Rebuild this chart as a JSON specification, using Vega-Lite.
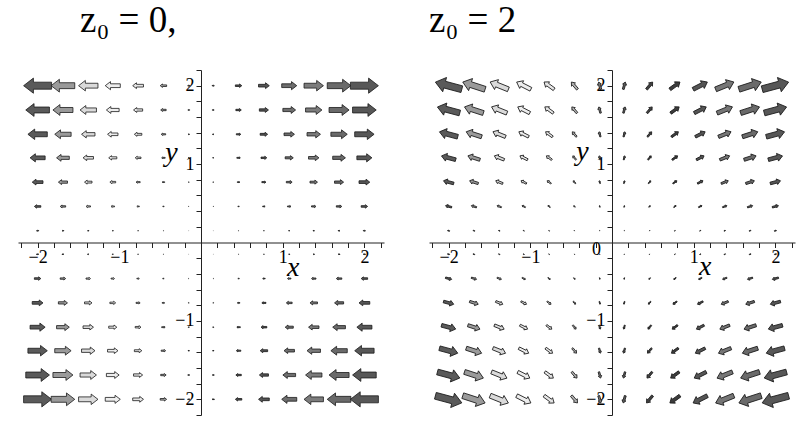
{
"$schema":"https://vega.github.io/schema/vega-lite/v6.json",
"background":"white",
"padding":{"left":18,"top":2,"right":5,"bottom":5},
"spacing":45,
"config":{"view":{"stroke":null},"axis":{"grid":false}},
"resolve":{"scale":{"x":"independent","y":"independent","size":"independent","color":"independent"}},
"datasets":{
"z0":[
{"x":-2,"y":2,"m":4,"a":180},{"x":-1.69,"y":2,"m":3.38,"a":180},{"x":-1.38,"y":2,"m":2.77,"a":180},{"x":-1.08,"y":2,"m":2.15,"a":180},{"x":-0.77,"y":2,"m":1.54,"a":180},{"x":-0.46,"y":2,"m":0.92,"a":180},{"x":-0.15,"y":2,"m":0.31,"a":180},{"x":0.15,"y":2,"m":0.31,"a":0},{"x":0.46,"y":2,"m":0.92,"a":0},{"x":0.77,"y":2,"m":1.54,"a":0},{"x":1.08,"y":2,"m":2.15,"a":0},{"x":1.38,"y":2,"m":2.77,"a":0},{"x":1.69,"y":2,"m":3.38,"a":0},{"x":2,"y":2,"m":4,"a":0},
{"x":-2,"y":1.69,"m":3.38,"a":180},{"x":-1.69,"y":1.69,"m":2.86,"a":180},{"x":-1.38,"y":1.69,"m":2.34,"a":180},{"x":-1.08,"y":1.69,"m":1.82,"a":180},{"x":-0.77,"y":1.69,"m":1.3,"a":180},{"x":-0.46,"y":1.69,"m":0.78,"a":180},{"x":-0.15,"y":1.69,"m":0.26,"a":180},{"x":0.15,"y":1.69,"m":0.26,"a":0},{"x":0.46,"y":1.69,"m":0.78,"a":0},{"x":0.77,"y":1.69,"m":1.3,"a":0},{"x":1.08,"y":1.69,"m":1.82,"a":0},{"x":1.38,"y":1.69,"m":2.34,"a":0},{"x":1.69,"y":1.69,"m":2.86,"a":0},{"x":2,"y":1.69,"m":3.38,"a":0},
{"x":-2,"y":1.38,"m":2.77,"a":180},{"x":-1.69,"y":1.38,"m":2.34,"a":180},{"x":-1.38,"y":1.38,"m":1.92,"a":180},{"x":-1.08,"y":1.38,"m":1.49,"a":180},{"x":-0.77,"y":1.38,"m":1.07,"a":180},{"x":-0.46,"y":1.38,"m":0.64,"a":180},{"x":-0.15,"y":1.38,"m":0.21,"a":180},{"x":0.15,"y":1.38,"m":0.21,"a":0},{"x":0.46,"y":1.38,"m":0.64,"a":0},{"x":0.77,"y":1.38,"m":1.07,"a":0},{"x":1.08,"y":1.38,"m":1.49,"a":0},{"x":1.38,"y":1.38,"m":1.92,"a":0},{"x":1.69,"y":1.38,"m":2.34,"a":0},{"x":2,"y":1.38,"m":2.77,"a":0},
{"x":-2,"y":1.08,"m":2.15,"a":180},{"x":-1.69,"y":1.08,"m":1.82,"a":180},{"x":-1.38,"y":1.08,"m":1.49,"a":180},{"x":-1.08,"y":1.08,"m":1.16,"a":180},{"x":-0.77,"y":1.08,"m":0.83,"a":180},{"x":-0.46,"y":1.08,"m":0.5,"a":180},{"x":-0.15,"y":1.08,"m":0.17,"a":180},{"x":0.15,"y":1.08,"m":0.17,"a":0},{"x":0.46,"y":1.08,"m":0.5,"a":0},{"x":0.77,"y":1.08,"m":0.83,"a":0},{"x":1.08,"y":1.08,"m":1.16,"a":0},{"x":1.38,"y":1.08,"m":1.49,"a":0},{"x":1.69,"y":1.08,"m":1.82,"a":0},{"x":2,"y":1.08,"m":2.15,"a":0},
{"x":-2,"y":0.77,"m":1.54,"a":180},{"x":-1.69,"y":0.77,"m":1.3,"a":180},{"x":-1.38,"y":0.77,"m":1.07,"a":180},{"x":-1.08,"y":0.77,"m":0.83,"a":180},{"x":-0.77,"y":0.77,"m":0.59,"a":180},{"x":-0.46,"y":0.77,"m":0.36,"a":180},{"x":-0.15,"y":0.77,"m":0.12,"a":180},{"x":0.15,"y":0.77,"m":0.12,"a":0},{"x":0.46,"y":0.77,"m":0.36,"a":0},{"x":0.77,"y":0.77,"m":0.59,"a":0},{"x":1.08,"y":0.77,"m":0.83,"a":0},{"x":1.38,"y":0.77,"m":1.07,"a":0},{"x":1.69,"y":0.77,"m":1.3,"a":0},{"x":2,"y":0.77,"m":1.54,"a":0},
{"x":-2,"y":0.46,"m":0.92,"a":180},{"x":-1.69,"y":0.46,"m":0.78,"a":180},{"x":-1.38,"y":0.46,"m":0.64,"a":180},{"x":-1.08,"y":0.46,"m":0.5,"a":180},{"x":-0.77,"y":0.46,"m":0.36,"a":180},{"x":-0.46,"y":0.46,"m":0.21,"a":180},{"x":-0.15,"y":0.46,"m":0.07,"a":180},{"x":0.15,"y":0.46,"m":0.07,"a":0},{"x":0.46,"y":0.46,"m":0.21,"a":0},{"x":0.77,"y":0.46,"m":0.36,"a":0},{"x":1.08,"y":0.46,"m":0.5,"a":0},{"x":1.38,"y":0.46,"m":0.64,"a":0},{"x":1.69,"y":0.46,"m":0.78,"a":0},{"x":2,"y":0.46,"m":0.92,"a":0},
{"x":-2,"y":0.15,"m":0.31,"a":180},{"x":-1.69,"y":0.15,"m":0.26,"a":180},{"x":-1.38,"y":0.15,"m":0.21,"a":180},{"x":-1.08,"y":0.15,"m":0.17,"a":180},{"x":-0.77,"y":0.15,"m":0.12,"a":180},{"x":-0.46,"y":0.15,"m":0.07,"a":180},{"x":-0.15,"y":0.15,"m":0.02,"a":180},{"x":0.15,"y":0.15,"m":0.02,"a":0},{"x":0.46,"y":0.15,"m":0.07,"a":0},{"x":0.77,"y":0.15,"m":0.12,"a":0},{"x":1.08,"y":0.15,"m":0.17,"a":0},{"x":1.38,"y":0.15,"m":0.21,"a":0},{"x":1.69,"y":0.15,"m":0.26,"a":0},{"x":2,"y":0.15,"m":0.31,"a":0},
{"x":-2,"y":-0.15,"m":0.31,"a":0},{"x":-1.69,"y":-0.15,"m":0.26,"a":0},{"x":-1.38,"y":-0.15,"m":0.21,"a":0},{"x":-1.08,"y":-0.15,"m":0.17,"a":0},{"x":-0.77,"y":-0.15,"m":0.12,"a":0},{"x":-0.46,"y":-0.15,"m":0.07,"a":0},{"x":-0.15,"y":-0.15,"m":0.02,"a":0},{"x":0.15,"y":-0.15,"m":0.02,"a":180},{"x":0.46,"y":-0.15,"m":0.07,"a":180},{"x":0.77,"y":-0.15,"m":0.12,"a":180},{"x":1.08,"y":-0.15,"m":0.17,"a":180},{"x":1.38,"y":-0.15,"m":0.21,"a":180},{"x":1.69,"y":-0.15,"m":0.26,"a":180},{"x":2,"y":-0.15,"m":0.31,"a":180},
{"x":-2,"y":-0.46,"m":0.92,"a":0},{"x":-1.69,"y":-0.46,"m":0.78,"a":0},{"x":-1.38,"y":-0.46,"m":0.64,"a":0},{"x":-1.08,"y":-0.46,"m":0.5,"a":0},{"x":-0.77,"y":-0.46,"m":0.36,"a":0},{"x":-0.46,"y":-0.46,"m":0.21,"a":0},{"x":-0.15,"y":-0.46,"m":0.07,"a":0},{"x":0.15,"y":-0.46,"m":0.07,"a":180},{"x":0.46,"y":-0.46,"m":0.21,"a":180},{"x":0.77,"y":-0.46,"m":0.36,"a":180},{"x":1.08,"y":-0.46,"m":0.5,"a":180},{"x":1.38,"y":-0.46,"m":0.64,"a":180},{"x":1.69,"y":-0.46,"m":0.78,"a":180},{"x":2,"y":-0.46,"m":0.92,"a":180},
{"x":-2,"y":-0.77,"m":1.54,"a":0},{"x":-1.69,"y":-0.77,"m":1.3,"a":0},{"x":-1.38,"y":-0.77,"m":1.07,"a":0},{"x":-1.08,"y":-0.77,"m":0.83,"a":0},{"x":-0.77,"y":-0.77,"m":0.59,"a":0},{"x":-0.46,"y":-0.77,"m":0.36,"a":0},{"x":-0.15,"y":-0.77,"m":0.12,"a":0},{"x":0.15,"y":-0.77,"m":0.12,"a":180},{"x":0.46,"y":-0.77,"m":0.36,"a":180},{"x":0.77,"y":-0.77,"m":0.59,"a":180},{"x":1.08,"y":-0.77,"m":0.83,"a":180},{"x":1.38,"y":-0.77,"m":1.07,"a":180},{"x":1.69,"y":-0.77,"m":1.3,"a":180},{"x":2,"y":-0.77,"m":1.54,"a":180},
{"x":-2,"y":-1.08,"m":2.15,"a":0},{"x":-1.69,"y":-1.08,"m":1.82,"a":0},{"x":-1.38,"y":-1.08,"m":1.49,"a":0},{"x":-1.08,"y":-1.08,"m":1.16,"a":0},{"x":-0.77,"y":-1.08,"m":0.83,"a":0},{"x":-0.46,"y":-1.08,"m":0.5,"a":0},{"x":-0.15,"y":-1.08,"m":0.17,"a":0},{"x":0.15,"y":-1.08,"m":0.17,"a":180},{"x":0.46,"y":-1.08,"m":0.5,"a":180},{"x":0.77,"y":-1.08,"m":0.83,"a":180},{"x":1.08,"y":-1.08,"m":1.16,"a":180},{"x":1.38,"y":-1.08,"m":1.49,"a":180},{"x":1.69,"y":-1.08,"m":1.82,"a":180},{"x":2,"y":-1.08,"m":2.15,"a":180},
{"x":-2,"y":-1.38,"m":2.77,"a":0},{"x":-1.69,"y":-1.38,"m":2.34,"a":0},{"x":-1.38,"y":-1.38,"m":1.92,"a":0},{"x":-1.08,"y":-1.38,"m":1.49,"a":0},{"x":-0.77,"y":-1.38,"m":1.07,"a":0},{"x":-0.46,"y":-1.38,"m":0.64,"a":0},{"x":-0.15,"y":-1.38,"m":0.21,"a":0},{"x":0.15,"y":-1.38,"m":0.21,"a":180},{"x":0.46,"y":-1.38,"m":0.64,"a":180},{"x":0.77,"y":-1.38,"m":1.07,"a":180},{"x":1.08,"y":-1.38,"m":1.49,"a":180},{"x":1.38,"y":-1.38,"m":1.92,"a":180},{"x":1.69,"y":-1.38,"m":2.34,"a":180},{"x":2,"y":-1.38,"m":2.77,"a":180},
{"x":-2,"y":-1.69,"m":3.38,"a":0},{"x":-1.69,"y":-1.69,"m":2.86,"a":0},{"x":-1.38,"y":-1.69,"m":2.34,"a":0},{"x":-1.08,"y":-1.69,"m":1.82,"a":0},{"x":-0.77,"y":-1.69,"m":1.3,"a":0},{"x":-0.46,"y":-1.69,"m":0.78,"a":0},{"x":-0.15,"y":-1.69,"m":0.26,"a":0},{"x":0.15,"y":-1.69,"m":0.26,"a":180},{"x":0.46,"y":-1.69,"m":0.78,"a":180},{"x":0.77,"y":-1.69,"m":1.3,"a":180},{"x":1.08,"y":-1.69,"m":1.82,"a":180},{"x":1.38,"y":-1.69,"m":2.34,"a":180},{"x":1.69,"y":-1.69,"m":2.86,"a":180},{"x":2,"y":-1.69,"m":3.38,"a":180},
{"x":-2,"y":-2,"m":4,"a":0},{"x":-1.69,"y":-2,"m":3.38,"a":0},{"x":-1.38,"y":-2,"m":2.77,"a":0},{"x":-1.08,"y":-2,"m":2.15,"a":0},{"x":-0.77,"y":-2,"m":1.54,"a":0},{"x":-0.46,"y":-2,"m":0.92,"a":0},{"x":-0.15,"y":-2,"m":0.31,"a":0},{"x":0.15,"y":-2,"m":0.31,"a":180},{"x":0.46,"y":-2,"m":0.92,"a":180},{"x":0.77,"y":-2,"m":1.54,"a":180},{"x":1.08,"y":-2,"m":2.15,"a":180},{"x":1.38,"y":-2,"m":2.77,"a":180},{"x":1.69,"y":-2,"m":3.38,"a":180},{"x":2,"y":-2,"m":4,"a":180}
],
"z2":[
{"x":-2,"y":2,"m":4.15,"a":195},{"x":-1.69,"y":2,"m":3.56,"a":198},{"x":-1.38,"y":2,"m":2.98,"a":202},{"x":-1.08,"y":2,"m":2.42,"a":207},{"x":-0.77,"y":2,"m":1.89,"a":216},{"x":-0.46,"y":2,"m":1.44,"a":230},{"x":-0.15,"y":2,"m":1.14,"a":254},{"x":0.15,"y":2,"m":1.14,"a":286},{"x":0.46,"y":2,"m":1.44,"a":310},{"x":0.77,"y":2,"m":1.89,"a":324},{"x":1.08,"y":2,"m":2.42,"a":333},{"x":1.38,"y":2,"m":2.98,"a":338},{"x":1.69,"y":2,"m":3.56,"a":342},{"x":2,"y":2,"m":4.15,"a":345},
{"x":-2,"y":1.69,"m":3.51,"a":195},{"x":-1.69,"y":1.69,"m":3.01,"a":198},{"x":-1.38,"y":1.69,"m":2.52,"a":202},{"x":-1.08,"y":1.69,"m":2.05,"a":207},{"x":-0.77,"y":1.69,"m":1.6,"a":216},{"x":-0.46,"y":1.69,"m":1.22,"a":230},{"x":-0.15,"y":1.69,"m":0.97,"a":254},{"x":0.15,"y":1.69,"m":0.97,"a":286},{"x":0.46,"y":1.69,"m":1.22,"a":310},{"x":0.77,"y":1.69,"m":1.6,"a":324},{"x":1.08,"y":1.69,"m":2.05,"a":333},{"x":1.38,"y":1.69,"m":2.52,"a":338},{"x":1.69,"y":1.69,"m":3.01,"a":342},{"x":2,"y":1.69,"m":3.51,"a":345},
{"x":-2,"y":1.38,"m":2.87,"a":195},{"x":-1.69,"y":1.38,"m":2.46,"a":198},{"x":-1.38,"y":1.38,"m":2.06,"a":202},{"x":-1.08,"y":1.38,"m":1.67,"a":207},{"x":-0.77,"y":1.38,"m":1.31,"a":216},{"x":-0.46,"y":1.38,"m":0.99,"a":230},{"x":-0.15,"y":1.38,"m":0.79,"a":254},{"x":0.15,"y":1.38,"m":0.79,"a":286},{"x":0.46,"y":1.38,"m":0.99,"a":310},{"x":0.77,"y":1.38,"m":1.31,"a":324},{"x":1.08,"y":1.38,"m":1.67,"a":333},{"x":1.38,"y":1.38,"m":2.06,"a":338},{"x":1.69,"y":1.38,"m":2.46,"a":342},{"x":2,"y":1.38,"m":2.87,"a":345},
{"x":-2,"y":1.08,"m":2.23,"a":195},{"x":-1.69,"y":1.08,"m":1.92,"a":198},{"x":-1.38,"y":1.08,"m":1.6,"a":202},{"x":-1.08,"y":1.08,"m":1.3,"a":207},{"x":-0.77,"y":1.08,"m":1.02,"a":216},{"x":-0.46,"y":1.08,"m":0.77,"a":230},{"x":-0.15,"y":1.08,"m":0.62,"a":254},{"x":0.15,"y":1.08,"m":0.62,"a":286},{"x":0.46,"y":1.08,"m":0.77,"a":310},{"x":0.77,"y":1.08,"m":1.02,"a":324},{"x":1.08,"y":1.08,"m":1.3,"a":333},{"x":1.38,"y":1.08,"m":1.6,"a":338},{"x":1.69,"y":1.08,"m":1.92,"a":342},{"x":2,"y":1.08,"m":2.23,"a":345},
{"x":-2,"y":0.77,"m":1.6,"a":195},{"x":-1.69,"y":0.77,"m":1.37,"a":198},{"x":-1.38,"y":0.77,"m":1.15,"a":202},{"x":-1.08,"y":0.77,"m":0.93,"a":207},{"x":-0.77,"y":0.77,"m":0.73,"a":216},{"x":-0.46,"y":0.77,"m":0.55,"a":230},{"x":-0.15,"y":0.77,"m":0.44,"a":254},{"x":0.15,"y":0.77,"m":0.44,"a":286},{"x":0.46,"y":0.77,"m":0.55,"a":310},{"x":0.77,"y":0.77,"m":0.73,"a":324},{"x":1.08,"y":0.77,"m":0.93,"a":333},{"x":1.38,"y":0.77,"m":1.15,"a":338},{"x":1.69,"y":0.77,"m":1.37,"a":342},{"x":2,"y":0.77,"m":1.6,"a":345},
{"x":-2,"y":0.46,"m":0.96,"a":195},{"x":-1.69,"y":0.46,"m":0.82,"a":198},{"x":-1.38,"y":0.46,"m":0.69,"a":202},{"x":-1.08,"y":0.46,"m":0.56,"a":207},{"x":-0.77,"y":0.46,"m":0.44,"a":216},{"x":-0.46,"y":0.46,"m":0.33,"a":230},{"x":-0.15,"y":0.46,"m":0.26,"a":254},{"x":0.15,"y":0.46,"m":0.26,"a":286},{"x":0.46,"y":0.46,"m":0.33,"a":310},{"x":0.77,"y":0.46,"m":0.44,"a":324},{"x":1.08,"y":0.46,"m":0.56,"a":333},{"x":1.38,"y":0.46,"m":0.69,"a":338},{"x":1.69,"y":0.46,"m":0.82,"a":342},{"x":2,"y":0.46,"m":0.96,"a":345},
{"x":-2,"y":0.15,"m":0.32,"a":195},{"x":-1.69,"y":0.15,"m":0.27,"a":198},{"x":-1.38,"y":0.15,"m":0.23,"a":202},{"x":-1.08,"y":0.15,"m":0.19,"a":207},{"x":-0.77,"y":0.15,"m":0.15,"a":216},{"x":-0.46,"y":0.15,"m":0.11,"a":230},{"x":-0.15,"y":0.15,"m":0.09,"a":254},{"x":0.15,"y":0.15,"m":0.09,"a":286},{"x":0.46,"y":0.15,"m":0.11,"a":310},{"x":0.77,"y":0.15,"m":0.15,"a":324},{"x":1.08,"y":0.15,"m":0.19,"a":333},{"x":1.38,"y":0.15,"m":0.23,"a":338},{"x":1.69,"y":0.15,"m":0.27,"a":342},{"x":2,"y":0.15,"m":0.32,"a":345},
{"x":-2,"y":-0.15,"m":0.32,"a":15},{"x":-1.69,"y":-0.15,"m":0.27,"a":18},{"x":-1.38,"y":-0.15,"m":0.23,"a":22},{"x":-1.08,"y":-0.15,"m":0.19,"a":27},{"x":-0.77,"y":-0.15,"m":0.15,"a":36},{"x":-0.46,"y":-0.15,"m":0.11,"a":50},{"x":-0.15,"y":-0.15,"m":0.09,"a":74},{"x":0.15,"y":-0.15,"m":0.09,"a":106},{"x":0.46,"y":-0.15,"m":0.11,"a":130},{"x":0.77,"y":-0.15,"m":0.15,"a":144},{"x":1.08,"y":-0.15,"m":0.19,"a":153},{"x":1.38,"y":-0.15,"m":0.23,"a":158},{"x":1.69,"y":-0.15,"m":0.27,"a":162},{"x":2,"y":-0.15,"m":0.32,"a":165},
{"x":-2,"y":-0.46,"m":0.96,"a":15},{"x":-1.69,"y":-0.46,"m":0.82,"a":18},{"x":-1.38,"y":-0.46,"m":0.69,"a":22},{"x":-1.08,"y":-0.46,"m":0.56,"a":27},{"x":-0.77,"y":-0.46,"m":0.44,"a":36},{"x":-0.46,"y":-0.46,"m":0.33,"a":50},{"x":-0.15,"y":-0.46,"m":0.26,"a":74},{"x":0.15,"y":-0.46,"m":0.26,"a":106},{"x":0.46,"y":-0.46,"m":0.33,"a":130},{"x":0.77,"y":-0.46,"m":0.44,"a":144},{"x":1.08,"y":-0.46,"m":0.56,"a":153},{"x":1.38,"y":-0.46,"m":0.69,"a":158},{"x":1.69,"y":-0.46,"m":0.82,"a":162},{"x":2,"y":-0.46,"m":0.96,"a":165},
{"x":-2,"y":-0.77,"m":1.6,"a":15},{"x":-1.69,"y":-0.77,"m":1.37,"a":18},{"x":-1.38,"y":-0.77,"m":1.15,"a":22},{"x":-1.08,"y":-0.77,"m":0.93,"a":27},{"x":-0.77,"y":-0.77,"m":0.73,"a":36},{"x":-0.46,"y":-0.77,"m":0.55,"a":50},{"x":-0.15,"y":-0.77,"m":0.44,"a":74},{"x":0.15,"y":-0.77,"m":0.44,"a":106},{"x":0.46,"y":-0.77,"m":0.55,"a":130},{"x":0.77,"y":-0.77,"m":0.73,"a":144},{"x":1.08,"y":-0.77,"m":0.93,"a":153},{"x":1.38,"y":-0.77,"m":1.15,"a":158},{"x":1.69,"y":-0.77,"m":1.37,"a":162},{"x":2,"y":-0.77,"m":1.6,"a":165},
{"x":-2,"y":-1.08,"m":2.23,"a":15},{"x":-1.69,"y":-1.08,"m":1.92,"a":18},{"x":-1.38,"y":-1.08,"m":1.6,"a":22},{"x":-1.08,"y":-1.08,"m":1.3,"a":27},{"x":-0.77,"y":-1.08,"m":1.02,"a":36},{"x":-0.46,"y":-1.08,"m":0.77,"a":50},{"x":-0.15,"y":-1.08,"m":0.62,"a":74},{"x":0.15,"y":-1.08,"m":0.62,"a":106},{"x":0.46,"y":-1.08,"m":0.77,"a":130},{"x":0.77,"y":-1.08,"m":1.02,"a":144},{"x":1.08,"y":-1.08,"m":1.3,"a":153},{"x":1.38,"y":-1.08,"m":1.6,"a":158},{"x":1.69,"y":-1.08,"m":1.92,"a":162},{"x":2,"y":-1.08,"m":2.23,"a":165},
{"x":-2,"y":-1.38,"m":2.87,"a":15},{"x":-1.69,"y":-1.38,"m":2.46,"a":18},{"x":-1.38,"y":-1.38,"m":2.06,"a":22},{"x":-1.08,"y":-1.38,"m":1.67,"a":27},{"x":-0.77,"y":-1.38,"m":1.31,"a":36},{"x":-0.46,"y":-1.38,"m":0.99,"a":50},{"x":-0.15,"y":-1.38,"m":0.79,"a":74},{"x":0.15,"y":-1.38,"m":0.79,"a":106},{"x":0.46,"y":-1.38,"m":0.99,"a":130},{"x":0.77,"y":-1.38,"m":1.31,"a":144},{"x":1.08,"y":-1.38,"m":1.67,"a":153},{"x":1.38,"y":-1.38,"m":2.06,"a":158},{"x":1.69,"y":-1.38,"m":2.46,"a":162},{"x":2,"y":-1.38,"m":2.87,"a":165},
{"x":-2,"y":-1.69,"m":3.51,"a":15},{"x":-1.69,"y":-1.69,"m":3.01,"a":18},{"x":-1.38,"y":-1.69,"m":2.52,"a":22},{"x":-1.08,"y":-1.69,"m":2.05,"a":27},{"x":-0.77,"y":-1.69,"m":1.6,"a":36},{"x":-0.46,"y":-1.69,"m":1.22,"a":50},{"x":-0.15,"y":-1.69,"m":0.97,"a":74},{"x":0.15,"y":-1.69,"m":0.97,"a":106},{"x":0.46,"y":-1.69,"m":1.22,"a":130},{"x":0.77,"y":-1.69,"m":1.6,"a":144},{"x":1.08,"y":-1.69,"m":2.05,"a":153},{"x":1.38,"y":-1.69,"m":2.52,"a":158},{"x":1.69,"y":-1.69,"m":3.01,"a":162},{"x":2,"y":-1.69,"m":3.51,"a":165},
{"x":-2,"y":-2,"m":4.15,"a":15},{"x":-1.69,"y":-2,"m":3.56,"a":18},{"x":-1.38,"y":-2,"m":2.98,"a":22},{"x":-1.08,"y":-2,"m":2.42,"a":27},{"x":-0.77,"y":-2,"m":1.89,"a":36},{"x":-0.46,"y":-2,"m":1.44,"a":50},{"x":-0.15,"y":-2,"m":1.14,"a":74},{"x":0.15,"y":-2,"m":1.14,"a":106},{"x":0.46,"y":-2,"m":1.44,"a":130},{"x":0.77,"y":-2,"m":1.89,"a":144},{"x":1.08,"y":-2,"m":2.42,"a":153},{"x":1.38,"y":-2,"m":2.98,"a":158},{"x":1.69,"y":-2,"m":3.56,"a":162},{"x":2,"y":-2,"m":4.15,"a":165}
],
"lab0":[{"x":1.13,"y":-0.43,"t":"x"},{"x":-0.36,"y":1.04,"t":"y"}],
"lab2":[{"x":1.14,"y":-0.42,"t":"x"},{"x":-0.36,"y":1.05,"t":"y"}],
"zero2":[{"x":-0.19,"y":-0.165,"t":"0"}]
},
"hconcat":[
{
"width":366,"height":345,
"title":{"text":"z₀ = 0,","anchor":"start","dx":62,"font":"Liberation Serif","fontSize":37,"fontWeight":"normal","color":"black","baseline":"alphabetic","offset":-8},
"encoding":{
"x":{"field":"x","type":"quantitative","scale":{"domain":[-2.24,2.24],"nice":false,"zero":false},
"axis":{"orient":"bottom","offset":-172.5,"title":null,"values":[-2.2,-2,-1.8,-1.6,-1.4,-1.2,-1,-0.8,-0.6,-0.4,-0.2,0.2,0.4,0.6,0.8,1,1.2,1.4,1.6,1.8,2,2.2],"tickCount":100,"labelExpr":"abs(datum.value)==1||abs(datum.value)==2 ? format(datum.value,'d') : ''","domainColor":"#222","domainWidth":1,"tickColor":"#222","tickSize":5,"tickWidth":1,"labelFont":"Liberation Serif","labelFontSize":18,"labelColor":"black","labelPadding":1,"labelOverlap":false,"labelFlush":false,"labelBound":false}},
"y":{"field":"y","type":"quantitative","scale":{"domain":[-2.2,2.2],"nice":false,"zero":false},
"axis":{"orient":"left","offset":-183,"title":null,"values":[-2.2,-2,-1.8,-1.6,-1.4,-1.2,-1,-0.8,-0.6,-0.4,-0.2,0.2,0.4,0.6,0.8,1,1.2,1.4,1.6,1.8,2,2.2],"tickCount":100,"labelExpr":"abs(datum.value)==1||abs(datum.value)==2 ? format(datum.value,'d') : ''","domainColor":"#222","domainWidth":1,"tickColor":"#222","tickSize":5,"tickWidth":1,"labelFont":"Liberation Serif","labelFontSize":18,"labelColor":"black","labelPadding":2,"labelOverlap":false,"labelFlush":false,"labelBound":false}}
},
"layer":[
{"data":{"name":"z0"},
"mark":{"type":"point","shape":"M-1,-0.25L0.3,-0.25L0.3,-0.54L1,0L0.3,0.54L0.3,0.25L-1,0.25Z","filled":true,"opacity":1,"stroke":"#1a1a1a","strokeWidth":0.8,"strokeOpacity":1},
"encoding":{
"size":{"field":"m","type":"quantitative","scale":{"type":"pow","exponent":2,"domain":[0,4],"range":[0,784]},"legend":null},
"angle":{"field":"a","type":"quantitative","scale":null},
"color":{"field":"x","type":"ordinal","scale":{"domain":[-2,-1.69,-1.38,-1.08,-0.77,-0.46,-0.15,0.15,0.46,0.77,1.08,1.38,1.69,2],"range":["#5a5a5a","#9a9a9a","#dadada","#ededed","#e6e6e6","#b0b0b0","#808080","#606060","#505050","#555555","#6e6e6e","#7c7c7c","#6a6a6a","#575757"]},"legend":null}
}},
{"data":{"name":"lab0"},
"mark":{"type":"text","font":"Liberation Serif","fontStyle":"italic","fontSize":28,"baseline":"alphabetic","align":"center","color":"black"},
"encoding":{"text":{"field":"t"}}}
]
},
{
"width":366,"height":345,
"title":{"text":"z₀ = 2","anchor":"start","dx":0,"font":"Liberation Serif","fontSize":37,"fontWeight":"normal","color":"black","baseline":"alphabetic","offset":-8},
"encoding":{
"x":{"field":"x","type":"quantitative","scale":{"domain":[-2.24,2.24],"nice":false,"zero":false},
"axis":{"orient":"bottom","offset":-172.5,"title":null,"values":[-2.2,-2,-1.8,-1.6,-1.4,-1.2,-1,-0.8,-0.6,-0.4,-0.2,0.2,0.4,0.6,0.8,1,1.2,1.4,1.6,1.8,2,2.2],"tickCount":100,"labelExpr":"abs(datum.value)==1||abs(datum.value)==2 ? format(datum.value,'d') : ''","domainColor":"#222","domainWidth":1,"tickColor":"#222","tickSize":5,"tickWidth":1,"labelFont":"Liberation Serif","labelFontSize":18,"labelColor":"black","labelPadding":1,"labelOverlap":false,"labelFlush":false,"labelBound":false}},
"y":{"field":"y","type":"quantitative","scale":{"domain":[-2.2,2.2],"nice":false,"zero":false},
"axis":{"orient":"left","offset":-183,"title":null,"values":[-2.2,-2,-1.8,-1.6,-1.4,-1.2,-1,-0.8,-0.6,-0.4,-0.2,0.2,0.4,0.6,0.8,1,1.2,1.4,1.6,1.8,2,2.2],"tickCount":100,"labelExpr":"abs(datum.value)==1||abs(datum.value)==2 ? format(datum.value,'d') : ''","domainColor":"#222","domainWidth":1,"tickColor":"#222","tickSize":5,"tickWidth":1,"labelFont":"Liberation Serif","labelFontSize":18,"labelColor":"black","labelPadding":2,"labelOverlap":false,"labelFlush":false,"labelBound":false}}
},
"layer":[
{"data":{"name":"z2"},
"mark":{"type":"point","shape":"M-1,-0.25L0.3,-0.25L0.3,-0.54L1,0L0.3,0.54L0.3,0.25L-1,0.25Z","filled":true,"opacity":1,"stroke":"#1a1a1a","strokeWidth":0.8,"strokeOpacity":1},
"encoding":{
"size":{"field":"m","type":"quantitative","scale":{"type":"pow","exponent":2,"domain":[0,4.15],"range":[0,750]},"legend":null},
"angle":{"field":"a","type":"quantitative","scale":null},
"color":{"field":"x","type":"ordinal","scale":{"domain":[-2,-1.69,-1.38,-1.08,-0.77,-0.46,-0.15,0.15,0.46,0.77,1.08,1.38,1.69,2],"range":["#5a5a5a","#9a9a9a","#dadada","#ededed","#e6e6e6","#b0b0b0","#808080","#606060","#404040","#3c3c3c","#555555","#767676","#6a6a6a","#575757"]},"legend":null}
}},
{"data":{"name":"lab2"},
"mark":{"type":"text","font":"Liberation Serif","fontStyle":"italic","fontSize":28,"baseline":"alphabetic","align":"center","color":"black"},
"encoding":{"text":{"field":"t"}}},
{"data":{"name":"zero2"},
"mark":{"type":"text","font":"Liberation Serif","fontSize":18,"baseline":"alphabetic","align":"center","color":"black"},
"encoding":{"text":{"field":"t"}}}
]
}
]
}
